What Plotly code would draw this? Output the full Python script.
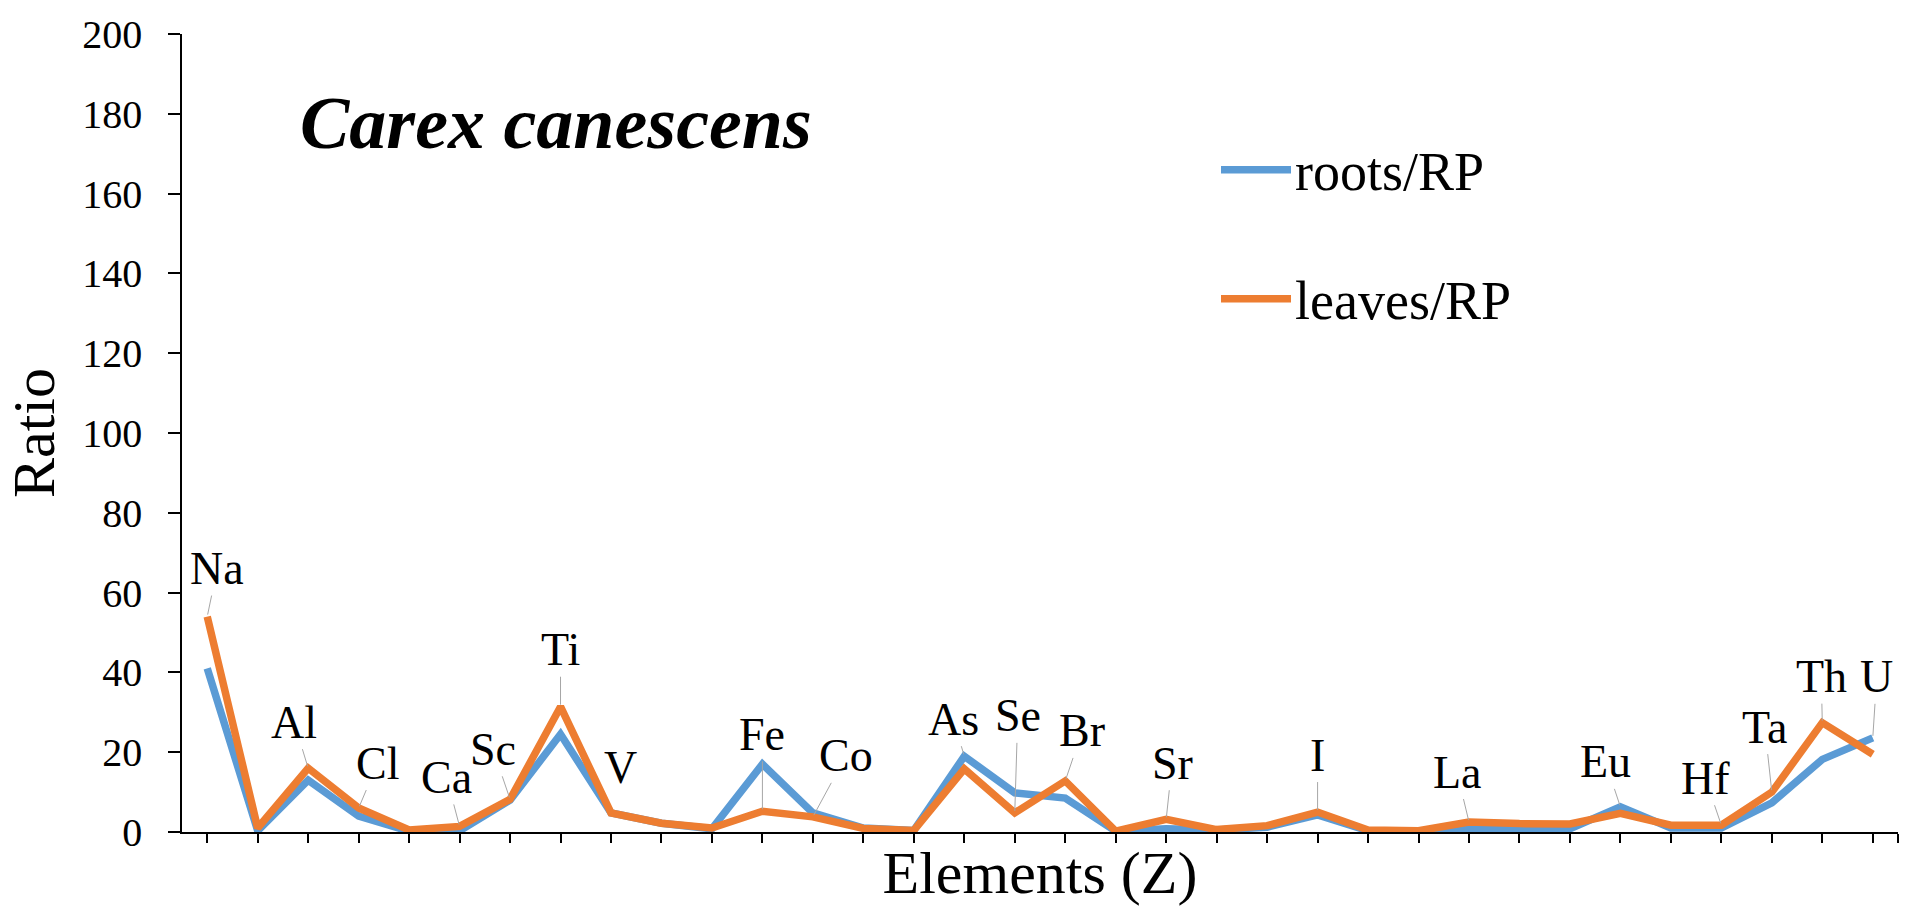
import plotly.graph_objects as go

# ---------------- data ----------------
positions = list(range(1, 35))  # category index along "Elements (Z)"
element_labels = ["Na", "", "Al", "Cl", "", "Ca", "Sc", "Ti", "V", "", "", "Fe", "Co", "", "",
                  "As", "Se", "Br", "", "Sr", "", "", "I", "", "", "La", "", "", "Eu", "",
                  "Hf", "Ta", "Th", "U"]
roots_rp = [41, 0.3, 13, 4, 0.2, 0.3, 8, 24.5, 4.8, 2.2, 0.8, 17, 4.8, 1.0, 0.4,
            19, 9.8, 8.5, 0.2, 0.8, 0.5, 1.2, 4.3, 0.3, 0.2, 1.0, 0.8, 0.8, 6.3, 1.0,
            1.0, 7.3, 18.2, 23.6]
leaves_rp = [54, 1.0, 16, 6, 0.5, 1.4, 8.2, 31.4, 4.8, 2.2, 1.0, 5.2, 3.8, 0.9, 0.4,
             15.8, 4.8, 12.8, 0.2, 3.2, 0.6, 1.6, 5.0, 0.5, 0.3, 2.5, 2.1, 2.0, 4.7, 1.7,
             1.7, 10, 27.4, 19.5]
y_ticks = [0, 20, 40, 60, 80, 100, 120, 140, 160, 180, 200]

# ---------------- styling ----------------
FONT = "Liberation Serif, Times New Roman, serif"
BLUE = "#5B9BD5"
ORANGE = "#ED7D31"
W, H = 1919, 906
L, R, T, B = 182, 21, 27, 74

# label placement: which series the leader points to, pixel offsets, leader on/off
label_layout = {
    "Na": ("leaves", 10, -48, True),
    "Al": ("leaves", -14, -46, True),
    "Cl": ("leaves", 19, -45, True),
    "Ca": ("leaves", -13, -49, True),
    "Sc": ("leaves", -17, -50, True),
    "Ti": ("leaves", 0, -57, True),
    "V": ("leaves", 9, -45, False),
    "Fe": ("leaves", 0, -77, True),
    "Co": ("leaves", 33, -61, True),
    "As": ("roots", -11, -37, True),
    "Se": ("leaves", 3, -97, True),
    "Br": ("leaves", 17, -50, True),
    "Sr": ("leaves", 6, -56, True),
    "I": ("leaves", 0, -57, True),
    "La": ("leaves", -12, -50, True),
    "Eu": ("roots", -15, -45, True),
    "Hf": ("leaves", -16, -47, True),
    "Ta": ("leaves", -7, -65, True),
    "Th": ("leaves", -1, -46, True),
    "U": ("roots", 4, -61, True),
}
LABEL_SIZE = 46

fig = go.Figure()
fig.add_trace(go.Scatter(x=positions, y=roots_rp, mode="lines", name="roots/RP",
                         line=dict(color=BLUE, width=7.5), showlegend=False))
fig.add_trace(go.Scatter(x=positions, y=leaves_rp, mode="lines", name="leaves/RP",
                         line=dict(color=ORANGE, width=7.5), showlegend=False))

annotations = []
for xi, lab in zip(positions, element_labels):
    if not lab:
        continue
    series, ax, ay, arrow = label_layout[lab]
    yv = (leaves_rp if series == "leaves" else roots_rp)[xi - 1]
    if arrow:
        annotations.append(dict(x=xi, y=yv, xref="x", yref="y", text=lab,
                                showarrow=True, arrowhead=0, arrowwidth=1,
                                arrowcolor="#A6A6A6", ax=ax, ay=ay, standoff=2,
                                font=dict(family=FONT, size=LABEL_SIZE, color="black")))
    else:
        annotations.append(dict(x=xi, y=yv, xref="x", yref="y", text=lab,
                                showarrow=False, xshift=ax, yshift=-ay,
                                font=dict(family=FONT, size=LABEL_SIZE, color="black")))

pw = W - L - R
ph = H - T - B


def px_x(X):
    return (X - L) / pw


def px_y(Y):
    return (H - B - Y) / ph


# title inside plot
annotations.append(dict(x=px_x(298), y=px_y(117), xref="paper", yref="paper",
                        xanchor="left", yanchor="middle", showarrow=False,
                        text="<b><i>Carex canescens</i></b>",
                        font=dict(family=FONT, size=74, color="black")))

# legend (manual, long swatches as in the original)
shapes = []
for name, col, yy in [("roots/RP", BLUE, 164), ("leaves/RP", ORANGE, 294)]:
    shapes.append(dict(type="line", xref="paper", yref="paper",
                       x0=px_x(1221), x1=px_x(1291), y0=px_y(yy), y1=px_y(yy),
                       line=dict(color=col, width=7.5)))
    annotations.append(dict(x=px_x(1293), y=px_y(yy + 2), xref="paper", yref="paper",
                            xanchor="left", yanchor="middle", showarrow=False,
                            text=name, font=dict(family=FONT, size=54, color="black")))

fig.update_layout(
    width=W, height=H,
    margin=dict(l=L, r=R, t=T, b=B, pad=0),
    paper_bgcolor="white", plot_bgcolor="white",
    font=dict(family=FONT, color="black"),
    annotations=annotations, shapes=shapes,
    showlegend=False,
)
fig.update_xaxes(
    range=[0.5, 34.5], showgrid=False, zeroline=False,
    showline=True, linecolor="black", linewidth=2,
    tickmode="array", tickvals=positions + [34.5], ticktext=[""] * 35,
    ticks="outside", ticklen=9, tickwidth=1.5, tickcolor="black",
    showticklabels=False,
    title=dict(text="Elements (Z)", font=dict(family=FONT, size=60, color="black"),
               standoff=10),
)
fig.update_yaxes(
    range=[0, 200], showgrid=False, zeroline=False,
    showline=True, linecolor="black", linewidth=1.5,
    tickmode="array", tickvals=y_ticks,
    ticks="outside", ticklen=12, tickwidth=1.5, tickcolor="black",
    tickfont=dict(family=FONT, size=40, color="black"),
    ticklabelstandoff=18,
    title=dict(text="Ratio", font=dict(family=FONT, size=60, color="black"),
               standoff=8),
)

fig.write_html("out.html")
